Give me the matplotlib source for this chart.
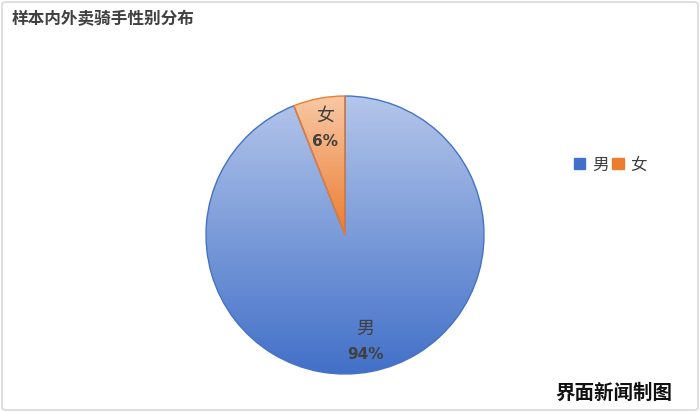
import matplotlib
matplotlib.use("Agg")
import matplotlib.pyplot as plt
import numpy as np
from matplotlib.patches import FancyBboxPatch, Rectangle
from matplotlib.colors import LinearSegmentedColormap

plt.rcParams['font.family'] = ['Noto Sans CJK SC', 'DejaVu Sans']

title = "样本内外卖骑手性别分布"
categories = ["男", "女"]
values = [94, 6]
credit = "界面新闻制图"

edge_colors = ["#4472c4", "#ed7d31"]
grad_top = ["#b4c6ea", "#f8c8a4"]
grad_bot = ["#4270c8", "#ec7c30"]

W, H = 700, 412
fig = plt.figure(figsize=(W / 100, H / 100), dpi=100)
fig.patch.set_facecolor("white")

# outer border
fig.patches.append(FancyBboxPatch((2 / W, 2 / H), 1 - 4 / W, 1 - 4 / H,
                                  boxstyle="round,pad=0,rounding_size=0.006",
                                  transform=fig.transFigure, fill=False,
                                  edgecolor="#d9d9d9", linewidth=1.2, figure=fig))

cx, cy, r = 345, 235, 139
ax = fig.add_axes([(cx - r) / W, (H - cy - r) / H, 2 * r / W, 2 * r / H])
total = sum(values)
wedges, texts, autotexts = ax.pie(
    values, startangle=90, counterclock=False, radius=1,
    colors=["none", "none"],
    wedgeprops=dict(linewidth=1.0),
    autopct=lambda p: "", pctdistance=0.78)

for i, w in enumerate(wedges):
    w.set_edgecolor(edge_colors[i])
    w.set_facecolor("none")
    w.set_zorder(3)
    cmap = LinearSegmentedColormap.from_list("g%d" % i, [grad_bot[i], grad_top[i]])
    grad = np.linspace(0, 1, 256).reshape(-1, 1)
    if i == 0:
        extent = (-1, 1, -1, 1)
    else:
        extent = (-1, 1, 0, 1)
    im = ax.imshow(grad, cmap=cmap, extent=extent, origin="lower",
                   aspect="auto", zorder=2, interpolation="bilinear")
    im.set_clip_path(w)

for i, t in enumerate(autotexts):
    x, y = t.get_position()
    pct = round(values[i] / total * 100)
    ax.text(x, y + 0.09, categories[i], ha="center", va="center",
            fontsize=13, color="#404040", zorder=5)
    ax.text(x, y - 0.09, f"{pct}%", ha="center", va="center",
            fontsize=11, fontweight="bold", color="#404040", zorder=5,
            family=["DejaVu Sans"])

ax.set_xlim(-1, 1)
ax.set_ylim(-1, 1)
ax.set_aspect("equal")
ax.axis("off")

fig.text(12 / W, 1 - 19 / H, title, fontsize=12, fontweight="bold",
         color="#404040", ha="left", va="center")

# legend
handles = [Rectangle((0, 0), 1, 1, facecolor=grad_bot[i], edgecolor=edge_colors[i])
           for i in range(2)]
leg = fig.legend(handles, categories, loc="center left",
                 bbox_to_anchor=(562 / W, 1 - 165 / H), ncol=2, frameon=False,
                 fontsize=12, handlelength=0.7, handleheight=0.7,
                 handletextpad=0.4, columnspacing=0.2, borderpad=0.2)
for t in leg.get_texts():
    t.set_color("#404040")

fig.text(672 / W, 1 - 393 / H, credit, fontsize=14, fontweight="bold",
         color="#111111", ha="right", va="center")

fig.savefig("out.png", dpi=100, facecolor="white")
